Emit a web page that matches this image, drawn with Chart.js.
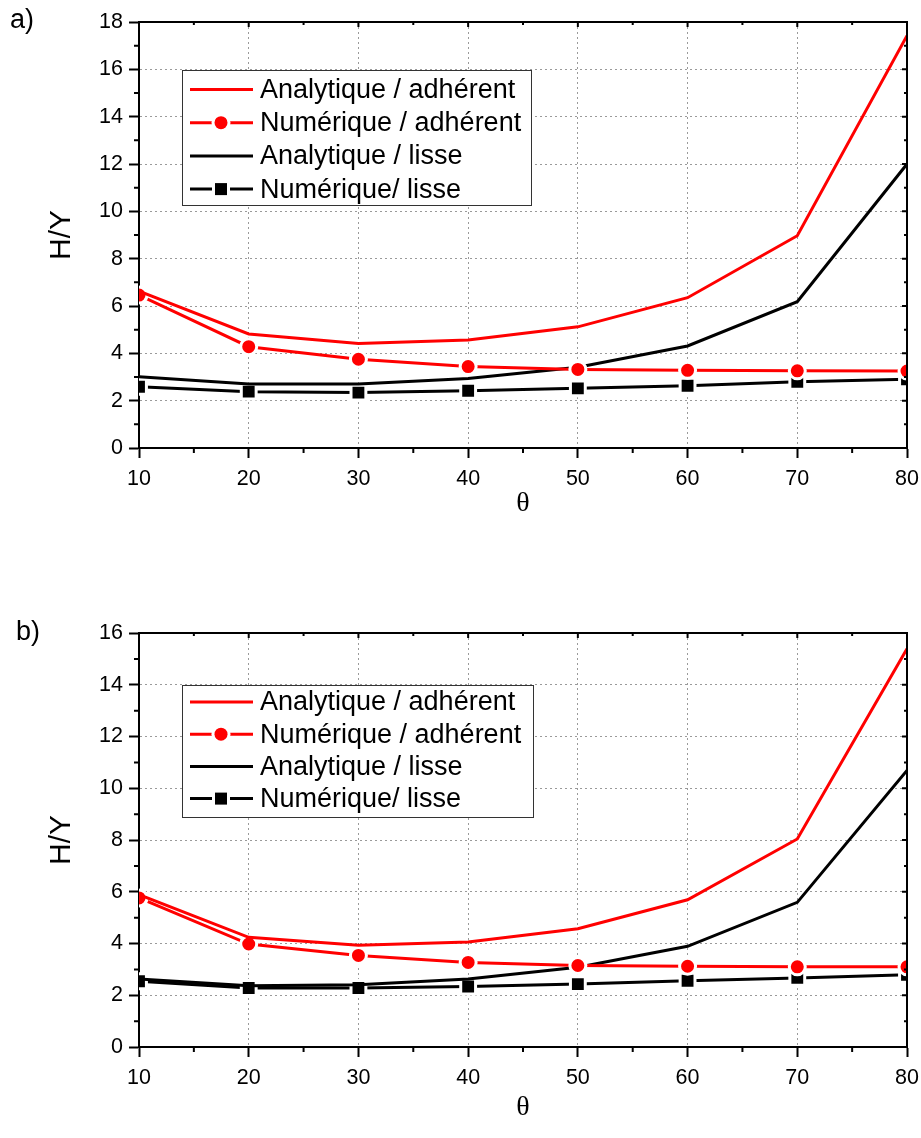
<!DOCTYPE html>
<html>
<head>
<meta charset="utf-8">
<script src="https://cdn.jsdelivr.net/npm/chart.js@4/dist/chart.umd.min.js"></script>
<style>
  html, body { margin: 0; padding: 0; background: #fff; }
  #wrap { position: relative; width: 921px; height: 1138px; }
  canvas { position: absolute; left: 0; }
  .panel { position: absolute; font-family: 'Liberation Sans', Arial, sans-serif; font-size: 27px; line-height: 27px; color: #000; }
</style>
</head>
<body>
<div id="wrap">
  <canvas id="chartA" width="921" height="569" style="top:0"></canvas>
  <canvas id="chartB" width="921" height="569" style="top:569px"></canvas>
  <div class="panel" style="left:10px; top:6px">a)</div>
  <div class="panel" style="left:16px; top:618px">b)</div>
</div>
<script>
// ---- Data ----
const theta   = [10, 20, 30, 40, 50, 60, 70, 80];
const xTicks  = [10, 20, 30, 40, 50, 60, 70, 80];
const yTicksA = [0, 2, 4, 6, 8, 10, 12, 14, 16, 18];
const yTicksB = [0, 2, 4, 6, 8, 10, 12, 14, 16];
const seriesLabels = ['Analytique / adhérent', 'Numérique / adhérent', 'Analytique / lisse', 'Numérique/ lisse'];

// panel a)
const aAnaAdh = [6.63, 4.82, 4.42, 4.56, 5.12, 6.35, 8.97, 17.42];
const aNumAdh = [6.46, 4.28, 3.75, 3.44, 3.32, 3.28, 3.26, 3.25];
const aAnaLis = [3.01, 2.70, 2.70, 2.94, 3.41, 4.31, 6.18, 12.0];
const aNumLis = [2.59, 2.38, 2.34, 2.42, 2.52, 2.63, 2.80, 2.90];

// panel b)
const bAnaAdh = [5.89, 4.24, 3.93, 4.06, 4.57, 5.69, 8.04, 15.39];
const bNumAdh = [5.76, 3.98, 3.54, 3.27, 3.15, 3.12, 3.10, 3.10];
const bAnaLis = [2.63, 2.37, 2.41, 2.63, 3.08, 3.89, 5.59, 10.69];
const bNumLis = [2.54, 2.28, 2.28, 2.34, 2.43, 2.56, 2.67, 2.79];

const SANS = "'Liberation Sans', Arial, sans-serif";
const RED = '#ff0000', BLACK = '#000000';

const pts = arr => arr.map((v, i) => ({ x: theta[i], y: v }));

function buildDatasets(ana1, num1, ana2, num2) {
  return [
    { label: seriesLabels[0], data: pts(ana1), borderColor: RED, backgroundColor: RED, borderWidth: 3, pointRadius: 0 },
    { label: seriesLabels[1], data: pts(num1), borderColor: RED, backgroundColor: RED, borderWidth: 3,
      pointStyle: 'circle', pointRadius: 8, pointBorderWidth: 3, pointBorderColor: '#fff', pointBackgroundColor: RED },
    { label: seriesLabels[2], data: pts(ana2), borderColor: BLACK, backgroundColor: BLACK, borderWidth: 3, pointRadius: 0 },
    { label: seriesLabels[3], data: pts(num2), borderColor: BLACK, backgroundColor: BLACK, borderWidth: 3,
      pointStyle: 'rect', pointRadius: 10.5, pointBorderWidth: 3, pointBorderColor: '#fff', pointBackgroundColor: BLACK }
  ];
}

// ---- Frame, minor ticks, legend box and axis titles ----
const decor = {
  id: 'decor',
  afterDatasetsDraw(chart, args, o) {
    const { ctx, chartArea: a, scales: { x, y } } = chart;
    ctx.save();
    ctx.strokeStyle = '#000';
    ctx.lineWidth = 2;
    // top + right frame
    ctx.beginPath();
    ctx.moveTo(a.left, a.top); ctx.lineTo(a.right, a.top); ctx.lineTo(a.right, a.bottom);
    ctx.stroke();

    ctx.beginPath();
    // x minor ticks (outside bottom) + inward ticks on top
    for (let v = 10; v <= 80; v += 5) {
      const px = x.getPixelForValue(v);
      if (v % 10) { ctx.moveTo(px, a.bottom); ctx.lineTo(px, a.bottom + 5); }
      ctx.moveTo(px, a.top); ctx.lineTo(px, a.top + (v % 10 ? 3 : 5));
    }
    // y minor ticks (outside left) + inward ticks on right
    for (let v = 0; v <= y.max; v += 1) {
      const py = y.getPixelForValue(v);
      if (v % 2) { ctx.moveTo(a.left, py); ctx.lineTo(a.left - 5, py); }
      ctx.moveTo(a.right, py); ctx.lineTo(a.right - (v % 2 ? 3 : 5), py);
    }
    ctx.stroke();

    // legend
    const L = o.legend;
    ctx.fillStyle = '#fff';
    ctx.fillRect(L.x, L.y, L.w, L.h);
    ctx.lineWidth = 1;
    ctx.strokeStyle = '#333';
    ctx.strokeRect(L.x + 0.5, L.y + 0.5, L.w, L.h);
    chart.data.datasets.forEach((ds, i) => {
      const ry = L.row0 + i * L.gap;
      ctx.strokeStyle = ds.borderColor;
      ctx.lineWidth = 3;
      ctx.beginPath();
      ctx.moveTo(L.x + 8, ry); ctx.lineTo(L.x + 71, ry);
      ctx.stroke();
      const cx = L.x + 39;
      if (ds.pointRadius) {
        ctx.fillStyle = '#fff';
        if (ds.pointStyle === 'circle') {
          ctx.beginPath(); ctx.arc(cx, ry, 9.5, 0, Math.PI * 2); ctx.fill();
          ctx.fillStyle = ds.pointBackgroundColor;
          ctx.beginPath(); ctx.arc(cx, ry, 6.5, 0, Math.PI * 2); ctx.fill();
        } else {
          ctx.fillRect(cx - 9, ry - 9, 18, 18);
          ctx.fillStyle = ds.pointBackgroundColor;
          ctx.fillRect(cx - 6, ry - 6, 12, 12);
        }
      }
      ctx.fillStyle = '#000';
      ctx.font = '27px ' + SANS;
      ctx.textAlign = 'left';
      ctx.textBaseline = 'middle';
      ctx.fillText(ds.label, L.x + 78, ry + 1);
    });

    // axis titles
    ctx.fillStyle = '#000';
    ctx.textAlign = 'center';
    ctx.textBaseline = 'middle';
    ctx.font = "28px 'Liberation Serif', 'Times New Roman', serif";
    ctx.fillText('θ', (a.left + a.right) / 2, a.bottom + o.xTitleOffset);
    ctx.save();
    ctx.translate(62, (a.top + a.bottom) / 2);
    ctx.rotate(-Math.PI / 2);
    ctx.font = '30px ' + SANS;
    ctx.fillText('H/Y', 0, 0);
    ctx.restore();
    ctx.restore();
  }
};

function makePanel(id, datasets, yMax, yTicks, layout) {
  return new Chart(document.getElementById(id), {
    type: 'line',
    data: { datasets },
    plugins: [decor],
    options: {
      responsive: false,
      animation: false,
      events: [],
      layout: { padding: { top: layout.top, right: 14, left: 0, bottom: 0 } },
      plugins: {
        legend: { display: false },
        tooltip: { enabled: false },
        decor: { legend: layout.legend, xTitleOffset: layout.xTitleOffset }
      },
      scales: {
        x: {
          type: 'linear', min: 10, max: 80,
          afterBuildTicks: s => { s.ticks = xTicks.map(v => ({ value: v })); },
          afterFit: s => { s.height = layout.xAxisH; s.paddingLeft = 0; s.paddingRight = 0; },
          ticks: { color: '#000', font: { family: SANS, size: 21.5 }, padding: 8, maxRotation: 0, autoSkip: false },
          grid: { color: '#9a9a9a', lineWidth: 1, tickColor: '#000', tickWidth: 2, tickLength: 10 },
          border: { color: '#000', width: 2, dash: [2, 3] }
        },
        y: {
          type: 'linear', min: 0, max: yMax,
          afterBuildTicks: s => { s.ticks = yTicks.map(v => ({ value: v })); },
          afterFit: s => { s.width = 139; s.paddingTop = 0; s.paddingBottom = 0; },
          ticks: { color: '#000', font: { family: SANS, size: 21.5 }, padding: 6, autoSkip: false },
          grid: { color: '#9a9a9a', lineWidth: 1, tickColor: '#000', tickWidth: 2, tickLength: 10 },
          border: { color: '#000', width: 2, dash: [2, 3] }
        }
      }
    }
  });
}

makePanel('chartA', buildDatasets(aAnaAdh, aNumAdh, aAnaLis, aNumLis), 18, yTicksA, {
  top: 22, xAxisH: 121, xTitleOffset: 56,
  legend: { x: 182, y: 70, w: 349, h: 135, row0: 89.5, gap: 33.2 }
});

makePanel('chartB', buildDatasets(bAnaAdh, bNumAdh, bAnaLis, bNumLis), 16, yTicksB, {
  top: 64, xAxisH: 91, xTitleOffset: 61,
  legend: { x: 182, y: 116, w: 351, h: 132, row0: 133, gap: 32.2 }
});
</script>
</body>
</html>
